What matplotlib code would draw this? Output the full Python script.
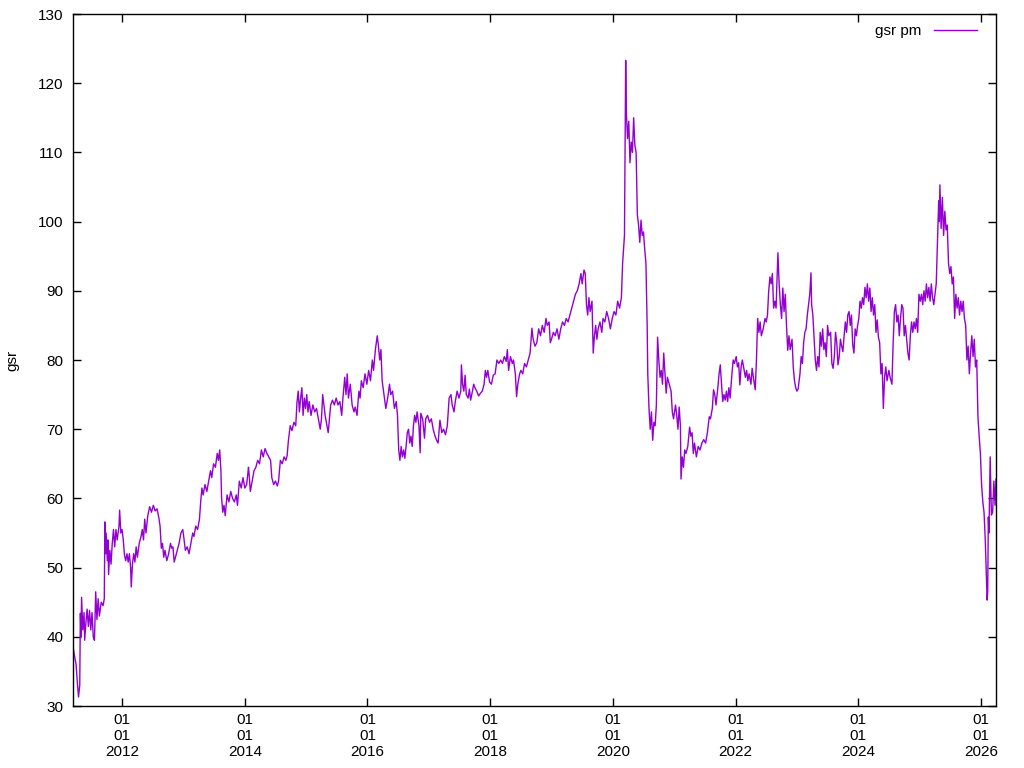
import matplotlib
matplotlib.use("Agg")
import matplotlib.pyplot as plt
import matplotlib.dates as mdates
from datetime import datetime, timedelta

# gold/silver ratio: decimal year, ratio
t = [
    2011.20, 2011.22, 2011.25, 2011.27, 2011.29, 2011.31, 2011.32, 2011.33, 2011.34, 2011.36,
    2011.38, 2011.39, 2011.41, 2011.43, 2011.45, 2011.47, 2011.49, 2011.51, 2011.53, 2011.55,
    2011.57, 2011.59, 2011.61, 2011.63, 2011.66, 2011.69, 2011.71, 2011.72, 2011.73, 2011.74,
    2011.76, 2011.77, 2011.78, 2011.80, 2011.82, 2011.84, 2011.86, 2011.88, 2011.90, 2011.92,
    2011.95, 2011.96, 2011.98, 2012.00, 2012.02, 2012.04, 2012.06, 2012.08, 2012.10, 2012.12,
    2012.14, 2012.15, 2012.17, 2012.19, 2012.21, 2012.23, 2012.25, 2012.28, 2012.31, 2012.33,
    2012.35, 2012.37, 2012.39, 2012.42, 2012.45, 2012.48, 2012.51, 2012.54, 2012.57, 2012.60,
    2012.62, 2012.64, 2012.66, 2012.68, 2012.70, 2012.73, 2012.76, 2012.79, 2012.81, 2012.83,
    2012.85, 2012.87, 2012.90, 2012.93, 2012.96, 2012.99, 2013.01, 2013.03, 2013.06, 2013.09,
    2013.12, 2013.15, 2013.17, 2013.20, 2013.23, 2013.26, 2013.28, 2013.30, 2013.32, 2013.35,
    2013.38, 2013.41, 2013.44, 2013.46, 2013.49, 2013.52, 2013.55, 2013.57, 2013.59, 2013.61,
    2013.62, 2013.64, 2013.66, 2013.68, 2013.71, 2013.74, 2013.77, 2013.80, 2013.83, 2013.86,
    2013.88, 2013.91, 2013.94, 2013.97, 2014.00, 2014.03, 2014.06, 2014.07, 2014.09, 2014.12,
    2014.15, 2014.18, 2014.21, 2014.24, 2014.27, 2014.30, 2014.33, 2014.36, 2014.39, 2014.42,
    2014.44, 2014.47, 2014.50, 2014.53, 2014.55, 2014.58, 2014.61, 2014.64, 2014.67, 2014.69,
    2014.71, 2014.74, 2014.77, 2014.80, 2014.83, 2014.85, 2014.87, 2014.89, 2014.91, 2014.93,
    2014.95, 2014.97, 2014.99, 2015.01, 2015.03, 2015.05, 2015.08, 2015.11, 2015.14, 2015.17,
    2015.20, 2015.23, 2015.25, 2015.27, 2015.29, 2015.31, 2015.33, 2015.36, 2015.38, 2015.40,
    2015.43, 2015.46, 2015.49, 2015.52, 2015.55, 2015.58, 2015.60, 2015.63, 2015.65, 2015.67,
    2015.69, 2015.72, 2015.75, 2015.78, 2015.80, 2015.83, 2015.86, 2015.88, 2015.90, 2015.93,
    2015.96, 2015.99, 2016.02, 2016.05, 2016.08, 2016.10, 2016.13, 2016.16, 2016.18, 2016.20,
    2016.22, 2016.24, 2016.27, 2016.30, 2016.33, 2016.36, 2016.38, 2016.41, 2016.44, 2016.47,
    2016.49, 2016.51, 2016.53, 2016.55, 2016.57, 2016.59, 2016.61, 2016.63, 2016.65, 2016.67,
    2016.69, 2016.71, 2016.73, 2016.75, 2016.77, 2016.79, 2016.81, 2016.84, 2016.86, 2016.87,
    2016.90, 2016.93, 2016.95, 2016.98, 2017.01, 2017.04, 2017.07, 2017.10, 2017.13, 2017.15,
    2017.18, 2017.21, 2017.24, 2017.27, 2017.30, 2017.33, 2017.36, 2017.38, 2017.41, 2017.43,
    2017.46, 2017.49, 2017.52, 2017.53, 2017.55, 2017.57, 2017.59, 2017.61, 2017.64, 2017.66,
    2017.68, 2017.71, 2017.73, 2017.75, 2017.78, 2017.81, 2017.84, 2017.87, 2017.90, 2017.92,
    2017.94, 2017.96, 2017.99, 2018.02, 2018.05, 2018.08, 2018.11, 2018.14, 2018.17, 2018.20,
    2018.23, 2018.26, 2018.28, 2018.30, 2018.33, 2018.36, 2018.38, 2018.41, 2018.43, 2018.45,
    2018.48, 2018.50, 2018.53, 2018.56, 2018.59, 2018.62, 2018.65, 2018.68, 2018.70, 2018.73,
    2018.76, 2018.79, 2018.82, 2018.85, 2018.88, 2018.91, 2018.93, 2018.96, 2018.98, 2019.00,
    2019.03, 2019.06, 2019.09, 2019.12, 2019.15, 2019.18, 2019.21, 2019.24, 2019.27, 2019.30,
    2019.33, 2019.36, 2019.39, 2019.42, 2019.45, 2019.48, 2019.50, 2019.53, 2019.55, 2019.57,
    2019.59, 2019.61, 2019.63, 2019.66, 2019.68, 2019.70, 2019.72, 2019.74, 2019.76, 2019.79,
    2019.82, 2019.84, 2019.87, 2019.90, 2019.93, 2019.96, 2019.99, 2020.02, 2020.05, 2020.08,
    2020.11, 2020.14, 2020.16, 2020.19, 2020.20, 2020.21, 2020.22, 2020.24, 2020.26, 2020.28,
    2020.30, 2020.32, 2020.34, 2020.36, 2020.38, 2020.40, 2020.42, 2020.44, 2020.46, 2020.48,
    2020.50, 2020.52, 2020.54, 2020.56, 2020.57, 2020.59, 2020.61, 2020.63, 2020.65, 2020.67,
    2020.69, 2020.71, 2020.73, 2020.75, 2020.77, 2020.79, 2020.81, 2020.83, 2020.85, 2020.87,
    2020.89, 2020.92, 2020.95, 2020.97, 2020.99, 2021.02, 2021.04, 2021.06, 2021.08, 2021.10,
    2021.11, 2021.13, 2021.15, 2021.17, 2021.19, 2021.22, 2021.25, 2021.27, 2021.29, 2021.31,
    2021.33, 2021.36, 2021.39, 2021.42, 2021.45, 2021.48, 2021.51, 2021.54, 2021.57, 2021.59,
    2021.62, 2021.64, 2021.66, 2021.68, 2021.71, 2021.73, 2021.75, 2021.77, 2021.79, 2021.81,
    2021.83, 2021.85, 2021.87, 2021.89, 2021.91, 2021.94, 2021.96, 2021.98, 2022.01, 2022.03,
    2022.05, 2022.07, 2022.09, 2022.11, 2022.13, 2022.16, 2022.18, 2022.20, 2022.22, 2022.25,
    2022.27, 2022.29, 2022.32, 2022.34, 2022.36, 2022.38, 2022.40, 2022.42, 2022.45, 2022.48,
    2022.50, 2022.52, 2022.54, 2022.56, 2022.58, 2022.60, 2022.62, 2022.64, 2022.66, 2022.68,
    2022.69, 2022.71, 2022.73, 2022.75, 2022.77, 2022.79, 2022.81, 2022.83, 2022.85, 2022.87,
    2022.89, 2022.92, 2022.94, 2022.96, 2022.98, 2023.00, 2023.02, 2023.05, 2023.07, 2023.09,
    2023.11, 2023.13, 2023.15, 2023.17, 2023.19, 2023.21, 2023.23, 2023.24, 2023.26, 2023.28,
    2023.30, 2023.32, 2023.34, 2023.36, 2023.38, 2023.40, 2023.42, 2023.44, 2023.46, 2023.48,
    2023.50, 2023.52, 2023.55, 2023.57, 2023.59, 2023.61, 2023.63, 2023.65, 2023.67, 2023.69,
    2023.71, 2023.73, 2023.75, 2023.77, 2023.79, 2023.81, 2023.83, 2023.85, 2023.87, 2023.89,
    2023.91, 2023.93, 2023.95, 2023.97, 2023.99, 2024.01, 2024.03, 2024.05, 2024.07, 2024.09,
    2024.11, 2024.13, 2024.15, 2024.17, 2024.19, 2024.21, 2024.23, 2024.25, 2024.27, 2024.29,
    2024.31, 2024.33, 2024.35, 2024.37, 2024.39, 2024.41, 2024.43, 2024.45, 2024.47, 2024.50,
    2024.52, 2024.55, 2024.57, 2024.59, 2024.61, 2024.63, 2024.65, 2024.67, 2024.69, 2024.71,
    2024.73, 2024.75, 2024.77, 2024.79, 2024.81, 2024.83, 2024.85, 2024.87, 2024.89, 2024.91,
    2024.93, 2024.95, 2024.97, 2024.99, 2025.01, 2025.03, 2025.05, 2025.07, 2025.09, 2025.11,
    2025.13, 2025.15, 2025.17, 2025.19, 2025.21, 2025.23, 2025.25, 2025.27, 2025.29, 2025.31,
    2025.32, 2025.33, 2025.35, 2025.37, 2025.39, 2025.41, 2025.43, 2025.45, 2025.47, 2025.49,
    2025.51, 2025.53, 2025.55, 2025.57, 2025.59, 2025.61, 2025.63, 2025.65, 2025.67, 2025.69,
    2025.71, 2025.73, 2025.75, 2025.77, 2025.79, 2025.81, 2025.83, 2025.85, 2025.87, 2025.89,
    2025.91, 2025.93, 2025.95, 2025.97, 2025.99, 2026.01, 2026.03, 2026.05, 2026.07, 2026.08,
    2026.09, 2026.10, 2026.11, 2026.12, 2026.13, 2026.15, 2026.17, 2026.19, 2026.21, 2026.23,
    2026.245,
]

gsr = [
    38.6, 37.5, 36.0, 33.5, 31.3, 33.0, 43.4, 40.0, 45.7, 41.0,
    43.5, 39.5, 42.0, 44.0, 41.5, 43.8, 41.0, 43.5, 40.0, 39.5,
    46.5, 42.5, 45.5, 43.0, 45.0, 44.5, 45.5, 56.6, 52.0, 55.0,
    51.0, 54.0, 49.0, 52.5, 50.5, 53.5, 55.5, 53.0, 55.5, 54.0,
    56.0, 58.3, 55.0, 55.5, 54.0, 51.8, 51.0, 52.0, 50.8, 52.0,
    50.0, 47.2, 50.5, 52.0, 50.8, 53.0, 51.5, 53.5, 54.5, 55.5,
    54.0, 57.0, 55.0, 57.5, 58.8, 58.0, 59.0, 58.2, 58.5, 57.2,
    56.0, 52.8, 53.5, 51.5, 52.5, 51.0, 52.0, 53.5, 52.8, 53.0,
    50.8, 51.5, 52.5, 53.5, 55.0, 55.5, 54.0, 52.5, 53.0, 52.0,
    53.5, 55.0, 54.5, 56.0, 55.5, 57.0, 59.5, 61.5, 60.5, 62.0,
    61.0, 62.5, 64.0, 63.0, 65.0, 64.5, 66.5, 65.5, 67.0, 64.0,
    60.2, 58.0, 59.0, 57.5, 60.5, 59.5, 61.0, 60.0, 59.5, 60.5,
    59.0, 62.5, 61.5, 63.0, 61.5, 62.0, 64.5, 63.5, 61.0, 62.5,
    64.0, 64.5, 65.5, 65.0, 67.0, 66.0, 67.2, 66.5, 66.0, 65.5,
    63.0, 62.0, 62.5, 61.8, 62.5, 65.5, 65.0, 66.0, 65.5, 66.2,
    68.3, 70.5, 69.8, 71.0, 70.5, 73.8, 75.5, 72.5, 74.5, 76.0,
    72.0, 74.5, 73.0, 75.0, 72.5, 74.0, 72.0, 73.5, 72.5, 73.0,
    71.5, 70.0, 71.5, 75.0, 73.5, 72.0, 71.0, 69.5, 71.5, 73.5,
    74.2, 73.5, 74.5, 73.5, 74.0, 72.0, 74.5, 77.5, 75.0, 78.0,
    74.5, 76.5, 73.5, 72.5, 73.2, 72.0, 75.5, 74.5, 77.0, 76.0,
    78.0, 76.5, 78.5, 77.0, 80.0, 78.5, 81.5, 83.5, 82.0, 80.0,
    81.5, 77.0, 75.0, 73.0, 74.5, 76.5, 75.0, 75.5, 73.0, 74.0,
    72.0, 67.0, 65.5, 67.5, 66.0, 67.0, 65.8, 67.5, 69.5, 70.0,
    68.0, 69.0, 67.5, 70.5, 72.0, 71.0, 72.5, 70.5, 66.6, 72.3,
    71.5, 68.7, 71.5, 72.0, 71.0, 71.5, 70.0, 69.0, 68.3, 68.0,
    71.3, 69.5, 70.0, 69.2, 70.5, 74.5, 75.0, 73.5, 72.5, 74.0,
    75.5, 74.5, 75.5, 79.3, 76.4, 75.5, 77.8, 75.0, 74.5, 75.8,
    74.2, 75.5, 76.5, 76.0, 75.5, 74.8, 75.2, 75.5, 76.5, 78.5,
    77.5, 78.5, 76.8, 76.5, 77.8, 78.0, 80.0, 79.5, 80.0, 79.5,
    80.5, 79.8, 81.5, 78.5, 80.5, 79.5, 80.0, 78.0, 74.7, 76.5,
    78.0, 78.5, 78.0, 79.5, 79.0, 80.0, 81.0, 84.6, 83.0, 82.0,
    82.5, 84.5, 83.5, 85.0, 84.0, 86.0, 85.0, 85.5, 82.5, 83.0,
    84.0, 83.5, 84.5, 83.0, 84.5, 85.5, 85.0, 86.0, 85.5, 86.5,
    87.5, 88.5, 89.5, 90.0, 91.0, 92.5, 91.0, 93.0, 92.5, 88.0,
    86.5, 89.0, 87.0, 88.5, 81.0, 83.5, 85.0, 83.0, 84.5, 85.5,
    84.0, 86.0, 85.5, 87.0, 86.0, 84.5, 86.0, 87.0, 86.5, 88.5,
    87.5, 89.0, 94.0, 98.0, 110.0, 123.3, 116.0, 112.0, 114.5, 108.5,
    111.5, 110.0, 115.0, 111.0, 110.0, 101.0, 99.5, 97.0, 100.2, 98.0,
    98.5, 96.0, 94.0, 85.0, 78.0, 73.0, 70.0, 72.5, 68.4, 71.0,
    70.5, 73.5, 83.3, 80.0, 77.5, 78.5, 76.5, 81.0, 78.0, 75.2,
    77.5, 76.5, 75.5, 72.5, 71.5, 73.5, 72.0, 70.0, 73.2, 70.5,
    62.8, 66.0, 64.5, 67.0, 66.5, 67.5, 70.3, 69.0, 69.5, 66.5,
    68.0, 66.0, 67.5, 67.0, 68.0, 68.5, 68.0, 69.5, 71.8, 71.5,
    73.0, 75.7, 75.0, 73.5, 76.0, 78.0, 79.3, 76.5, 74.0, 75.0,
    74.2, 75.5, 74.0, 76.0, 74.5, 78.0, 80.0, 79.5, 80.5, 79.0,
    79.6, 76.4, 79.0, 80.0, 79.0, 77.5, 78.5, 77.0, 78.0, 76.5,
    78.8, 77.5, 75.7, 80.0, 86.0, 84.0, 85.5, 83.5, 84.5, 86.0,
    85.5, 86.5, 90.0, 92.0, 91.0, 92.5, 87.5, 88.5, 87.5, 93.0,
    95.5, 91.0, 88.0, 86.0, 90.4, 87.0, 89.5, 85.0, 81.4, 83.5,
    81.5, 83.0, 79.0, 77.0, 76.0, 75.5, 75.8, 78.0, 80.5, 79.5,
    82.5, 84.0, 84.5, 86.5, 88.0, 89.5, 92.6, 88.0, 86.5, 83.2,
    80.0, 78.5, 80.5, 79.0, 84.0, 82.0, 84.5, 81.5, 82.5, 80.5,
    85.0, 83.5, 84.0, 79.5, 78.8, 80.5, 84.0, 82.5, 79.3, 80.5,
    83.0, 82.0, 81.2, 83.5, 85.5, 84.0, 86.5, 87.0, 85.0, 86.5,
    82.2, 81.0, 84.5, 83.5, 85.0, 86.0, 88.5, 87.5, 89.0, 88.0,
    90.5, 89.0, 91.0, 88.5, 90.4, 87.0, 89.0, 86.5, 88.0, 84.0,
    85.8, 83.3, 82.5, 78.0, 79.5, 73.0, 77.5, 79.0, 77.0, 78.5,
    77.5, 76.5, 82.5, 87.0, 88.0, 85.5, 86.5, 83.5, 86.0, 88.0,
    87.5, 83.5, 85.0, 83.0, 81.0, 80.0, 83.5, 85.5, 84.0, 85.5,
    84.5, 86.0, 84.0, 89.5, 88.5, 89.5, 88.0, 90.0, 88.5, 91.0,
    89.0, 90.5, 88.5, 91.0, 89.0, 88.0, 89.5, 91.0, 97.0, 103.0,
    100.0, 105.3, 99.0, 103.5, 98.0, 101.5, 98.8, 99.5, 94.0, 92.5,
    93.5, 91.0, 92.0, 86.0, 89.5, 87.5, 89.0, 86.5, 88.5, 87.0,
    88.5, 86.0, 85.0, 80.0, 82.0, 78.0, 81.0, 83.5, 80.5, 83.0,
    79.0, 80.0, 71.8, 69.0, 66.5, 62.0, 59.5, 58.0, 54.0, 51.0,
    47.5, 45.3, 46.5, 57.3, 55.0, 66.0, 57.6, 58.0, 62.5, 59.0,
    62.8,
]

y_ticks = [30, 40, 50, 60, 70, 80, 90, 100, 110, 120, 130]


def year_to_date(y):
    yr = int(y)
    return datetime(yr, 1, 1) + timedelta(days=(y - yr) * 365.25)


dates = [year_to_date(y) for y in t]

plt.rcParams["font.family"] = ["Liberation Sans", "DejaVu Sans"]
plt.rcParams["font.size"] = 11

fig = plt.figure(figsize=(10.24, 7.68), dpi=100)
ax = fig.add_axes([73 / 1024, 1 - 706 / 768, 923 / 1024, 692 / 768])

ax.plot(dates, gsr, color="#9400d3", linewidth=1.0, label="gsr pm")

ax.set_xlim(dates[0], dates[-1])
ax.set_ylim(30, 130)
ax.set_yticks(y_ticks)

ax.xaxis.set_major_locator(mdates.YearLocator(2))
ax.xaxis.set_major_formatter(mdates.DateFormatter("%d\n%m\n%Y"))

ax.tick_params(direction="in", length=6, width=1, top=True, right=True,
               colors="black", labelsize=11)
ax.tick_params(axis="x", pad=5)
ax.tick_params(axis="y", pad=7)
for s in ax.spines.values():
    s.set_linewidth(1)

ax.set_ylabel("gsr", fontsize=11)
ax.yaxis.set_label_coords(-0.0585, 0.5)

ax.legend(loc="upper right", bbox_to_anchor=(0.99, 1.0), frameon=False,
          handlelength=2.8, handletextpad=0.8, markerfirst=False, fontsize=11,
          borderaxespad=0.4, borderpad=0.25)

fig.savefig("out.png", dpi=100)
